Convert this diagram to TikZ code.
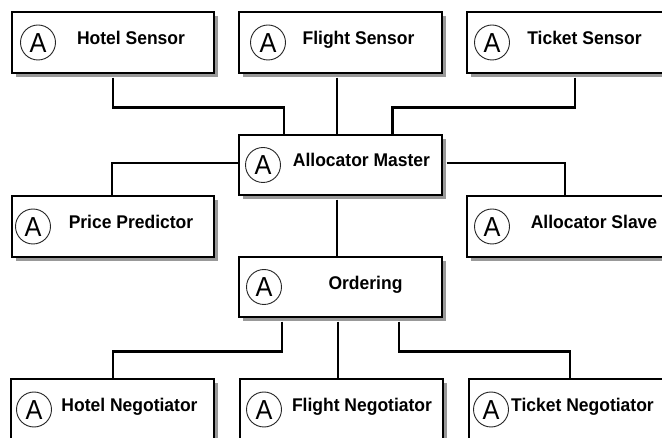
\documentclass[tikz,border=0pt]{standalone}
\usepackage{fontspec}
\setmainfont{Liberation Sans}
\usetikzlibrary{shadows}
\tikzset{
  box/.style={draw=black, line width=1.4pt, fill=white, minimum width=202pt, minimum height=61pt, inner sep=0pt,
    drop shadow={shadow xshift=4pt, shadow yshift=-4pt, fill=black!40, opacity=1}},
  agent/.style={draw=black!85, line width=0.9pt, circle, minimum size=35pt, inner sep=0pt, fill=white},
  aglyph/.style={anchor=base, inner sep=0pt, xscale=0.92, font=\fontsize{27.5}{28}\selectfont},
  lbl/.style={anchor=base, inner sep=0pt, yscale=1.05, font=\fontsize{17.5}{18}\selectfont\bfseries},
  conn/.style={draw=black, line width=2.6pt}
}
\begin{document}
\begin{tikzpicture}[x=1pt,y=-1pt]
\useasboundingbox (0,0) rectangle (662,438);
\clip (0,0) rectangle (662,438);
\fill[white] (0,0) rectangle (662,438);

% boxes
\node[box] (hs) at (113,42.5) {};
\node[box, minimum width=203pt] (fs) at (340.5,42.5) {};
\node[box, minimum width=203pt] (ts) at (568.5,42.5) {};
\node[box, minimum width=203pt, minimum height=60pt] (am) at (340.5,165) {};
\node[box] (pp) at (113,226.5) {};
\node[box, minimum width=203pt] (as) at (568.5,226.5) {};
\node[box, minimum width=203pt, minimum height=60pt] (or) at (340.5,287) {};
\node[box, minimum width=203pt] (hn) at (112.5,409.5) {};
\node[box, minimum width=203pt] (fn) at (341.5,409.5) {};
\node[box, minimum width=203pt] (tn) at (570.5,409.5) {};

% connectors
\draw[conn] ([yshift=-4pt]hs.south) -- ++(0,30) -| ([xshift=-56.5pt]am.north);
\draw[conn] ([xshift=-3.5pt,yshift=-4pt]fs.south) -- ([xshift=-3.5pt]am.north);
\draw[conn] ([xshift=6.5pt,yshift=-4pt]ts.south) -- ++(0,30) -| ([xshift=52pt]am.north);
\draw[conn] ([yshift=2pt]am.west) -| ([xshift=-1pt]pp.north);
\draw[conn] ([yshift=2pt,xshift=4pt]am.east) -| ([xshift=-3.5pt]as.north);
\draw[conn] ([xshift=-3.5pt,yshift=-4pt]am.south) -- ([xshift=-3.5pt]or.north);
\draw[conn] ([xshift=-58.5pt,yshift=-4pt]or.south) -- ++(0,30) -| ([xshift=0.5pt]hn.north);
\draw[conn] ([xshift=-2.5pt,yshift=-4pt]or.south) -- ([xshift=-3.5pt]fn.north);
\draw[conn] ([xshift=58.5pt,yshift=-4pt]or.south) -- ++(0,30) -| ([xshift=-0.5pt]tn.north);

% agent circles
\foreach \n/\x/\y in {chs/38/42.5, cfs/268/42.5, cts/492/42.5, cam/263/165, cpp/33/226.5, cas/492/226.5, cor/264/287, chn/34/409.5, cfn/264/409.5, ctn/491/409.5}{
  \node[agent] (\n) at (\x,\y) {};
  \node[aglyph] (g\n) at (\x,\y+10) {A};
}

% labels
\node[lbl] (ths) at (131,45) {Hotel Sensor};
\node[lbl] (tfs) at (358.5,45) {Flight Sensor};
\node[lbl] (tts) at (584.5,45) {Ticket Sensor};
\node[lbl] (tam) at (361.5,167) {Allocator Master};
\node[lbl] (tpp) at (131,229) {Price Predictor};
\node[lbl] (tas) at (594,229) {Allocator Slave};
\node[lbl] (tor) at (365.5,290) {Ordering};
\node[lbl] (thn) at (129.5,412) {Hotel Negotiator};
\node[lbl] (tfn) at (362,412) {Flight Negotiator};
\node[lbl] (ttn) at (582.5,412) {Ticket Negotiator};
\end{tikzpicture}
\end{document}
